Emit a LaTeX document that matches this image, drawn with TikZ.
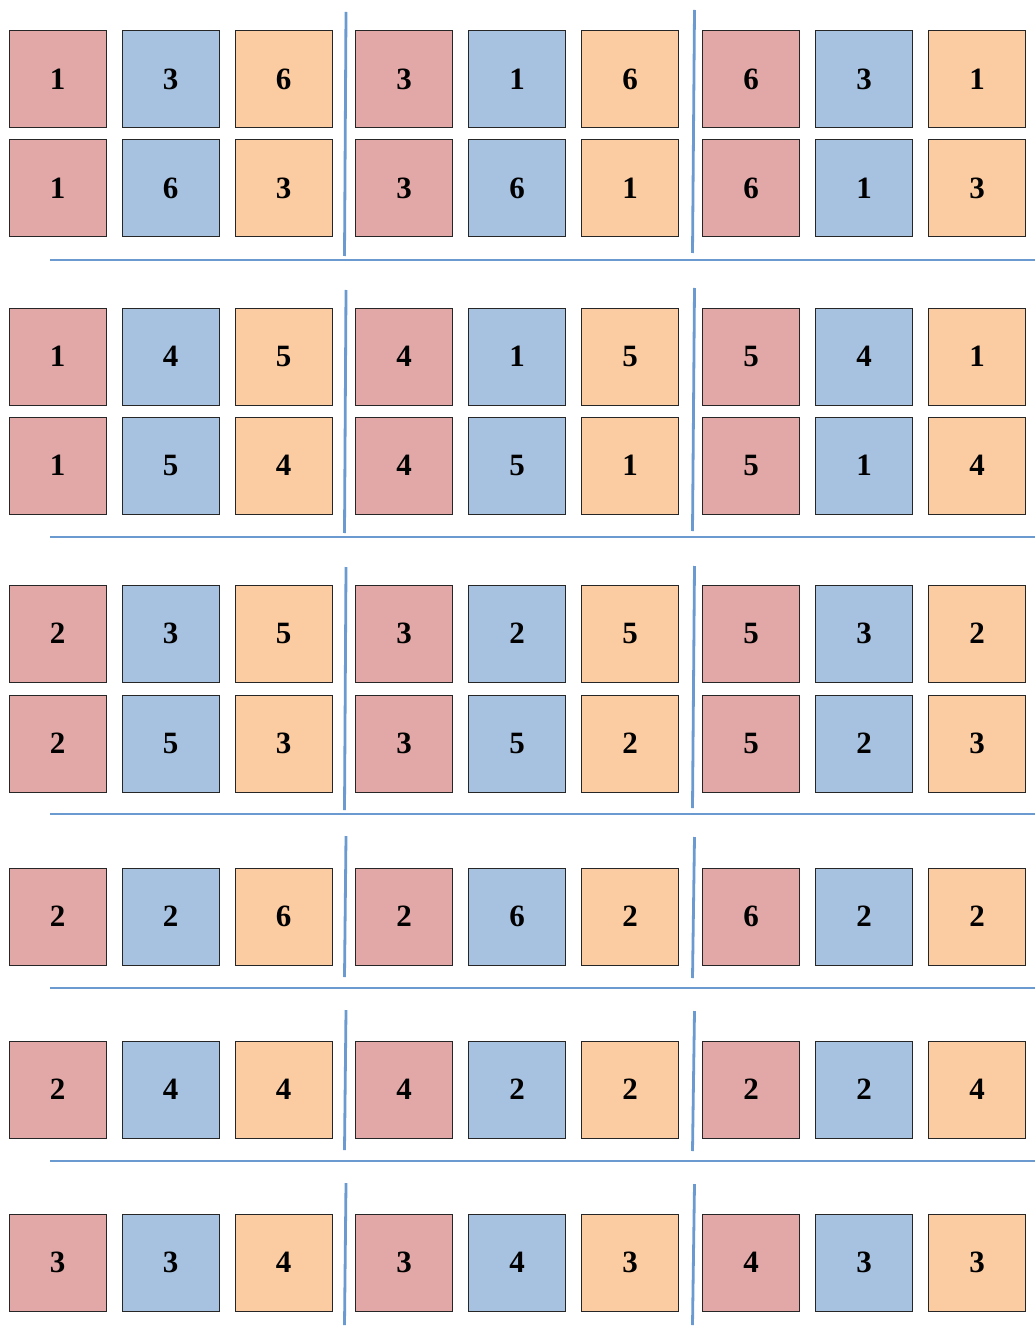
\documentclass[tikz,border=0pt]{standalone}
\usepackage{fontspec}
\setmainfont{Liberation Serif}
\definecolor{cred}{RGB}{226,168,167}
\definecolor{cblue}{RGB}{167,193,224}
\definecolor{corange}{RGB}{251,203,161}
\definecolor{cline}{RGB}{106,154,208}
\tikzset{
  cell/.style={draw=black!85, line width=1pt, minimum width=97pt, minimum height=97pt, inner sep=0pt, font=\fontsize{31}{32}\selectfont\bfseries},
  sep/.style={draw=cline, line width=2.8pt},
}
\begin{document}
\begin{tikzpicture}[x=1pt,y=-1pt]
\useasboundingbox (0,0) rectangle (1035,1329);
\foreach \r/\top/\vals in {
  1/31/{1,3,6,3,1,6,6,3,1},
  2/140/{1,6,3,3,6,1,6,1,3},
  3/308/{1,4,5,4,1,5,5,4,1},
  4/417/{1,5,4,4,5,1,5,1,4},
  5/585/{2,3,5,3,2,5,5,3,2},
  6/695/{2,5,3,3,5,2,5,2,3},
  7/868/{2,2,6,2,6,2,6,2,2},
  8/1041/{2,4,4,4,2,2,2,2,4},
  9/1214/{3,3,4,3,4,3,4,3,3}}{
  \foreach \v [count=\c] in \vals {
    \pgfmathsetmacro\lx{{9,122,235,355.5,468.5,581.5,702.5,815.5,928.5}[\c-1]}
    \pgfmathtruncatemacro\m{mod(\c-1,3)}
    \ifcase\m \def\fc{cred}\or \def\fc{cblue}\or \def\fc{corange}\fi
    \node[cell, fill=\fc] (b-\r-\c) at (\lx+48.5,\top+48.5) {\v};
  }
}
% vertical separators
\foreach \g/\ta/\ba/\tb/\bb in {1/12/256/10/253, 2/290/533/288/531, 3/567/810/566/808, 4/836/977/837/978, 5/1010/1150/1011/1151, 6/1183/1325/1184/1325}{
  \coordinate (va-\g-t) at (346,\ta);
  \coordinate (va-\g-b) at (344.5,\ba);
  \coordinate (vb-\g-t) at (694.5,\tb);
  \coordinate (vb-\g-b) at (692.5,\bb);
  \draw[sep] (va-\g-t) -- (va-\g-b);
  \draw[sep] (vb-\g-t) -- (vb-\g-b);
}
% horizontal separators
\foreach \h/\y in {1/260,2/537,3/814,4/988,5/1161}{
  \coordinate (h-\h-l) at (50,\y);
  \coordinate (h-\h-r) at (1035,\y);
  \draw[sep] (h-\h-l) -- (h-\h-r);
}
\end{tikzpicture}
\end{document}
